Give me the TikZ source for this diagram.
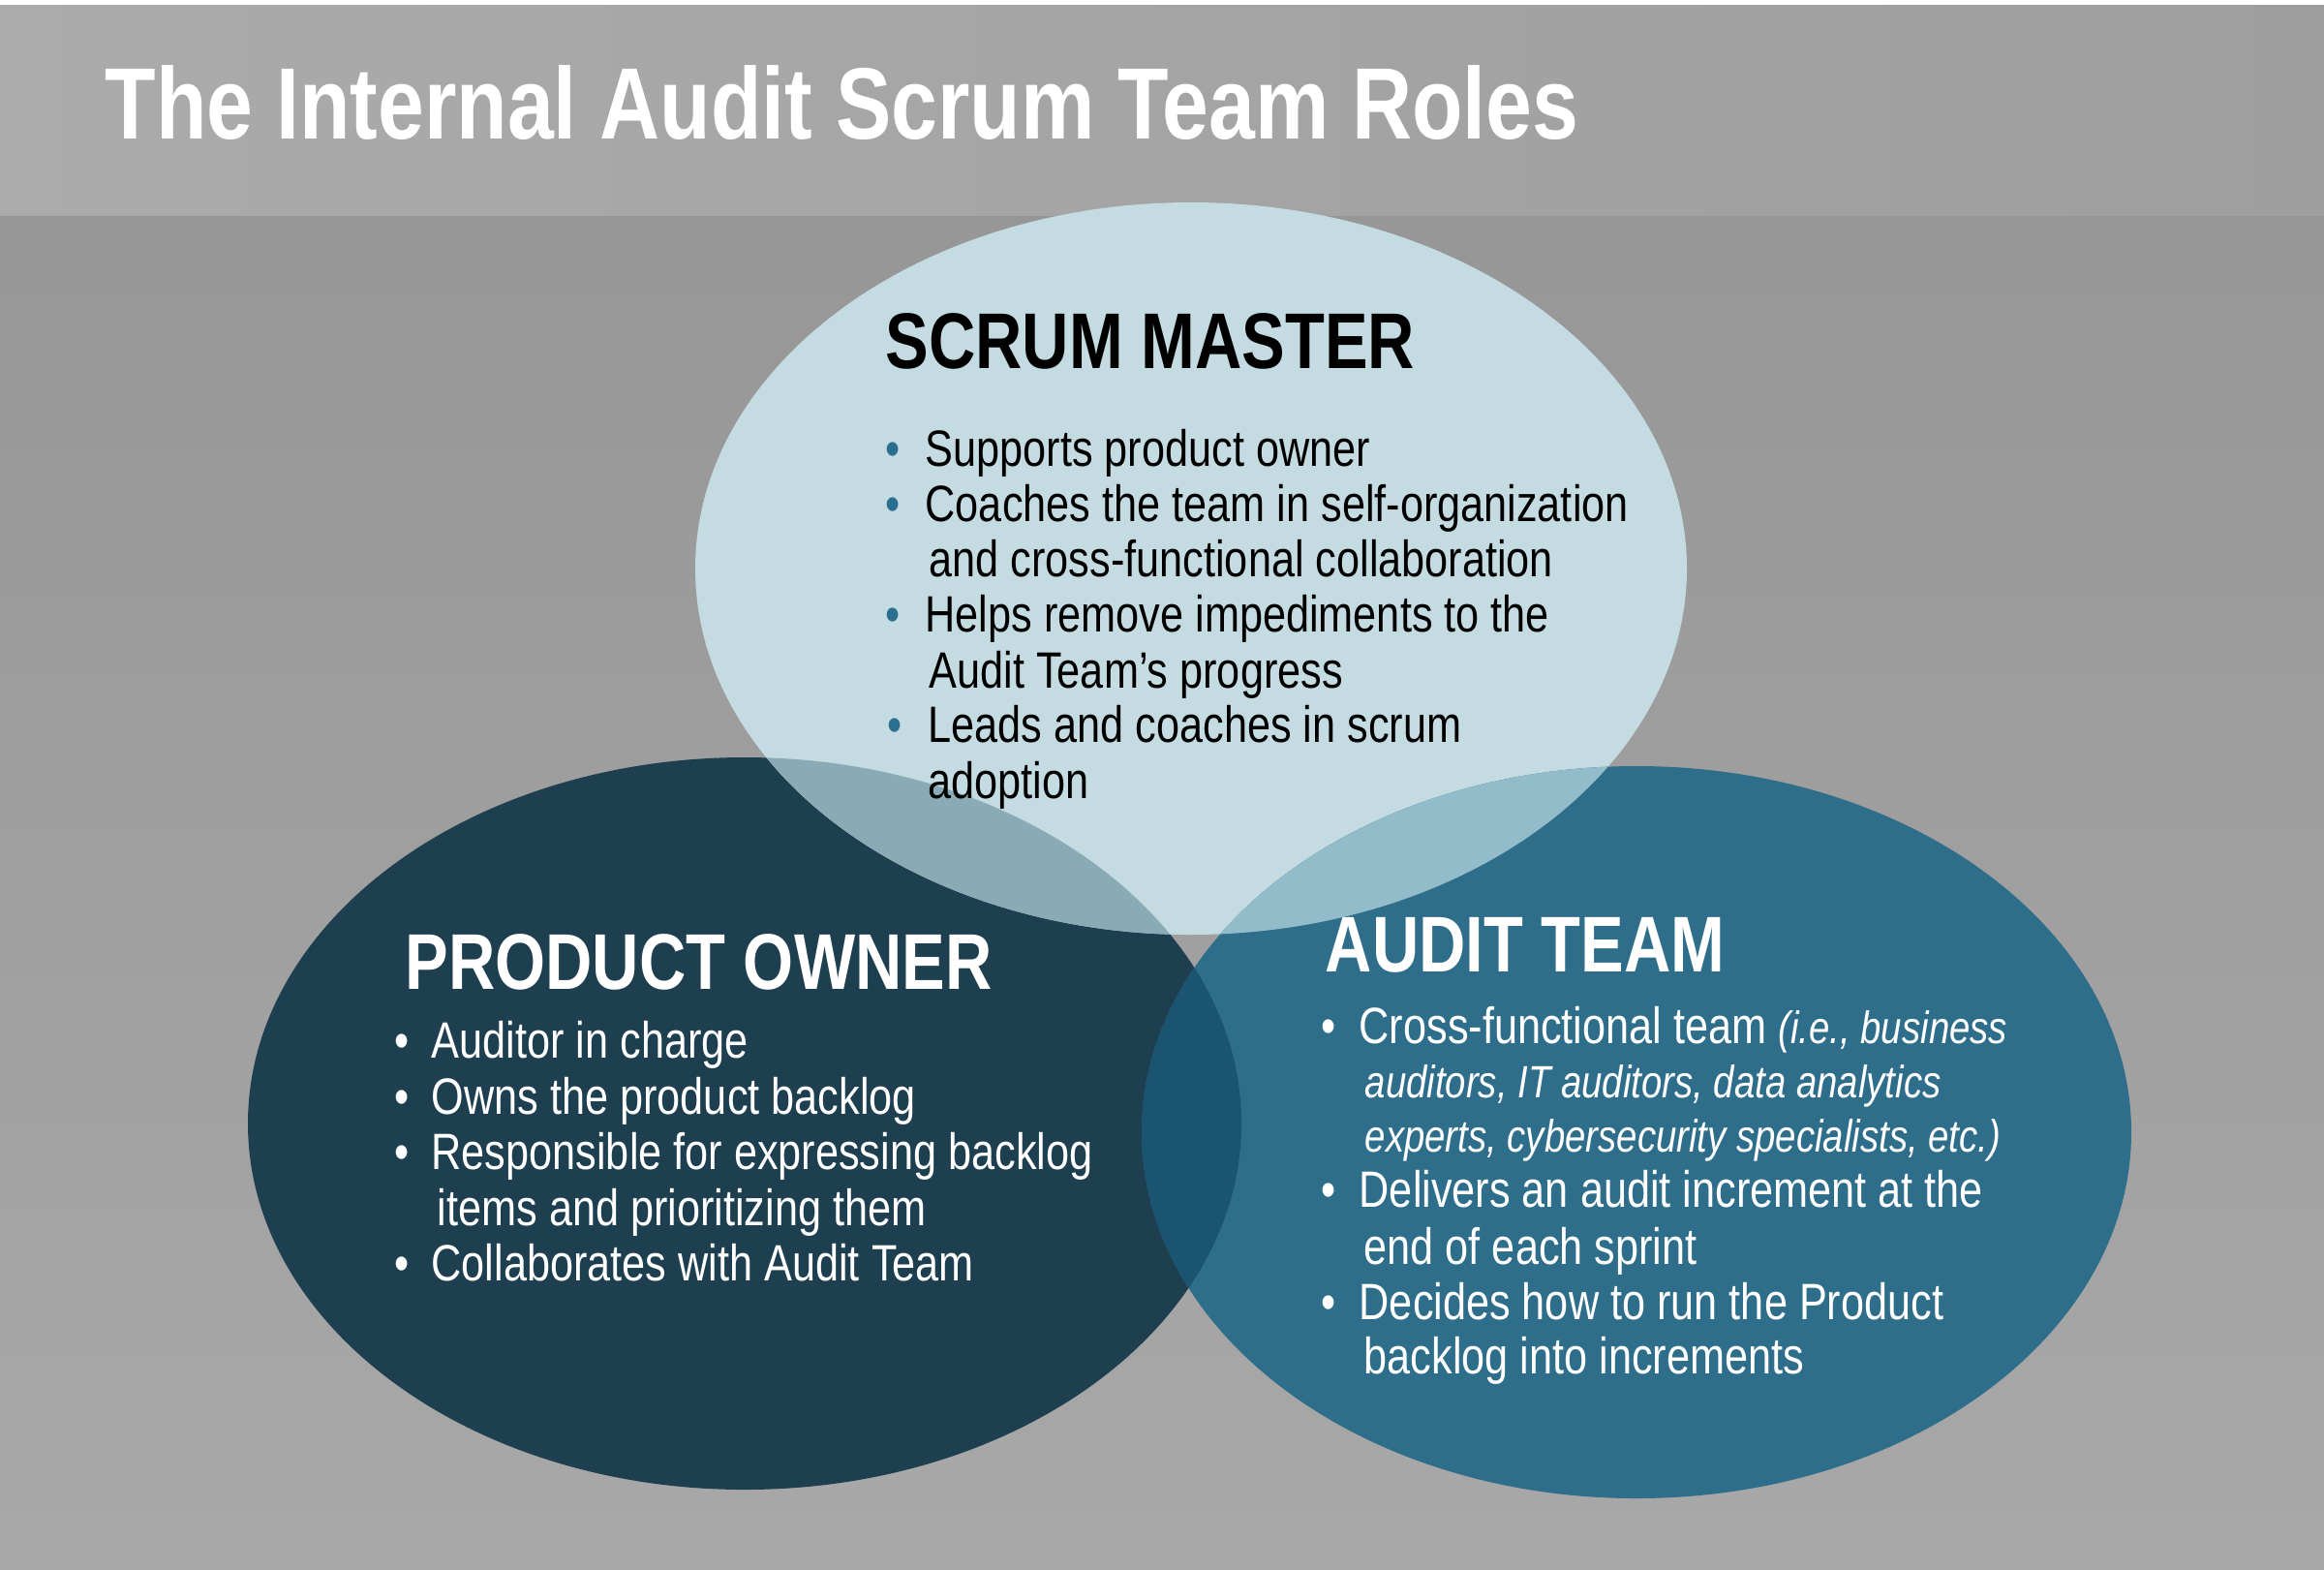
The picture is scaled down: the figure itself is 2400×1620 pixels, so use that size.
\documentclass[tikz,border=0pt]{standalone}
\usepackage{fontspec}
\setmainfont{Liberation Sans}[FakeStretch=0.82]
\definecolor{pocol}{HTML}{1D3F4F}
\definecolor{smcol}{HTML}{C5DBE2}
\definecolor{atcol}{HTML}{2E6E8A}
\definecolor{smpo}{HTML}{8AABB5}
\definecolor{smat}{HTML}{93BCCB}
\definecolor{poat}{HTML}{1B5470}
\definecolor{bulblue}{HTML}{2A6F8F}
\begin{document}
\begin{tikzpicture}[x=0.01cm,y=-0.01cm,
  titletext/.style={font=\fontsize{29.8}{32}\selectfont\bfseries, text=white, anchor=base west, inner sep=0pt},
  headtext/.style={font=\fontsize{23.2}{26}\selectfont\bfseries, anchor=base west, inner sep=0pt},
  bodytext/.style={font=\fontsize{15}{16}\selectfont, anchor=base west, inner sep=0pt},
  smtext/.style={bodytext, text=black},
  wtext/.style={bodytext, text=white},
  smbul/.style={bodytext, text=bulblue, anchor=base},
  wbul/.style={bodytext, text=white, anchor=base}]
\useasboundingbox (0,0) rectangle (2400,1620);
% background
\shade[top color=black!41, bottom color=black!34] (0,222) rectangle (2400,1620);
\shade[left color=black!33, right color=black!38] (0,5) rectangle (2400,222);
\fill[white] (0,0) rectangle (2400,5);
% ellipses
\def\poell{(769,1160) ellipse [x radius=513, y radius=378]}
\def\smell{(1230,587) ellipse [x radius=512, y radius=378]}
\def\atell{(1690,1169) ellipse [x radius=511, y radius=378]}
\fill[pocol] \poell;
\fill[smcol] \smell;
\fill[atcol] \atell;
\begin{scope}\clip \smell; \fill[smpo] \poell; \end{scope}
\begin{scope}\clip \smell; \fill[smat] \atell; \end{scope}
\begin{scope}\clip \poell; \fill[poat] \atell; \end{scope}
% title
\node[titletext] (title) at (108,143) {The Internal Audit Scrum Team Roles};
% scrum master
\node[headtext, text=black] (smhead) at (914,380) {SCRUM MASTER};
\node[smbul] (smb1) at (922,481) {•};
\node[smtext] (sm1) at (955,481) {Supports product owner};
\node[smbul] (smb2) at (922,538) {•};
\node[smtext] (sm2) at (955,538) {Coaches the team in self-organization};
\node[smtext] (sm2b) at (959,595) {and cross-functional collaboration};
\node[smbul] (smb3) at (922,652) {•};
\node[smtext] (sm3) at (955,652) {Helps remove impediments to the};
\node[smtext] (sm3b) at (959,710) {Audit Team’s progress};
\node[smbul] (smb4) at (924,766) {•};
\node[smtext] (sm4) at (958,766) {Leads and coaches in scrum};
\node[smtext] (sm4b) at (958,824) {adoption};
% product owner
\node[headtext, text=white] (pohead) at (418,1021) {PRODUCT OWNER};
\node[wbul] (pob1) at (415,1092) {•};
\node[wtext] (po1) at (445,1092) {Auditor in charge};
\node[wbul] (pob2) at (415,1150) {•};
\node[wtext] (po2) at (445,1150) {Owns the product backlog};
\node[wbul] (pob3) at (415,1207) {•};
\node[wtext] (po3) at (445,1207) {Responsible for expressing backlog};
\node[wtext] (po3b) at (451,1265) {items and prioritizing them};
\node[wbul] (pob4) at (415,1322) {•};
\node[wtext] (po4) at (445,1322) {Collaborates with Audit Team};
% audit team
\node[headtext, text=white] (athead) at (1368,1003) {AUDIT TEAM};
\node[wbul] (atb1) at (1372,1077) {•};
\node[wtext] (at1) at (1403,1077) {Cross-functional team {\fontsize{13.3}{15}\selectfont\itshape(i.e., business}};
\node[wtext, font=\fontsize{13.3}{15}\selectfont\itshape] (at1b) at (1409,1133) {auditors, IT auditors, data analytics};
\node[wtext, font=\fontsize{13.3}{15}\selectfont\itshape] (at1c) at (1409,1189) {experts, cybersecurity specialists, etc.)};
\node[wbul] (atb2) at (1372,1246) {•};
\node[wtext] (at2) at (1403,1246) {Delivers an audit increment at the};
\node[wtext] (at2b) at (1408,1305) {end of each sprint};
\node[wbul] (atb3) at (1372,1362) {•};
\node[wtext] (at3) at (1403,1362) {Decides how to run the Product};
\node[wtext] (at3b) at (1408,1418) {backlog into increments};
\end{tikzpicture}
\end{document}
